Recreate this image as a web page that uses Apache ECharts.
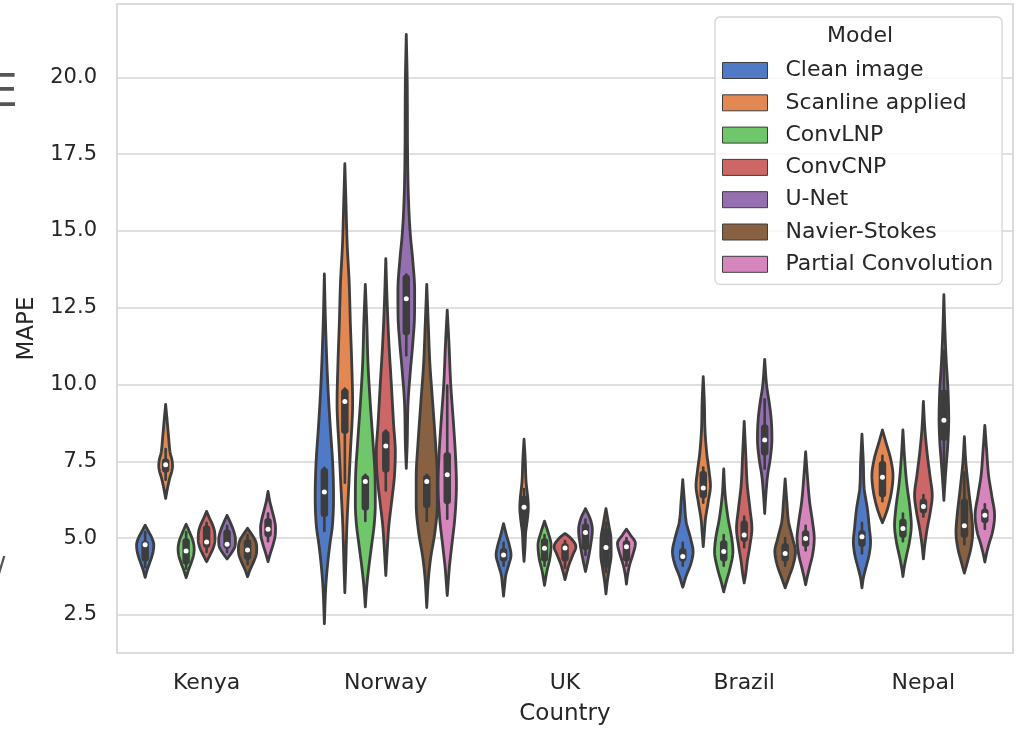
<!DOCTYPE html>
<html>
<head>
<meta charset="utf-8">
<script src="https://cdn.jsdelivr.net/npm/echarts@6/dist/echarts.min.js"></script>
<style>
  html, body { margin: 0; padding: 0; background: #ffffff; }
  #chart { width: 1017px; height: 731px; }
</style>
</head>
<body>
<div id="chart"></div>
<script>
const countries = ['Kenya', 'Norway', 'UK', 'Brazil', 'Nepal'];
const models = ['Clean image', 'Scanline applied', 'ConvLNP', 'ConvCNP', 'U-Net', 'Navier-Stokes', 'Partial Convolution'];
const modelColors = ['#517ac6', '#e38853', '#70c66a', '#cd6666', '#9570b1', '#876142', '#d685bd'];
const yTicks = [2.5, 5, 7.5, 10, 12.5, 15, 17.5, 20];

// Kernel density profiles, one per country (Kenya, Norway, UK, Brazil, Nepal):
// [MAPE, relative density] pairs running from the lower to the upper tail.
const cleanImageDensity = [
  [[3.72,0],[3.93,.15],[4.15,.35],[4.36,.55],[4.57,.7],[4.78,.75],[4.99,.6],[5.21,.3],[5.42,0]],
  [[2.21,0],[3.45,.13],[4.1,.27],[4.77,.47],[5.4,.7],[6.35,.8],[7.4,.73],[8.7,.5],[10.0,.3],[12.0,.1],[13.6,0]],
  [[3.11,0],[3.48,.1],[3.8,.2],[4.13,.45],[4.45,.65],[4.77,.5],[5.1,.25],[5.47,0]],
  [[3.4,0],[3.8,.33],[4.13,.68],[4.56,.9],[4.99,.68],[5.53,.3],[6.17,.15],[6.9,0]],
  [[3.38,0],[3.7,.12],[4.02,.33],[4.45,.62],[4.88,.75],[5.31,.65],[5.96,.47],[6.6,.2],[7.46,.12],[8.38,0]]
];
const scanlineDensity = [
  [[6.29,0],[6.6,.15],[6.94,.35],[7.2,.55],[7.35,.6],[7.55,.55],[7.77,.4],[8.32,.25],[8.87,.12],[9.35,0]],
  [[3.22,0],[4.13,.08],[5.42,.18],[6.74,.35],[8.06,.52],[8.7,.62],[9.37,.68],[10.7,.6],[12.0,.48],[13.3,.38],[14.6,.2],[15.9,.1],[17.19,0]],
  [[4.24,0],[4.67,.08],[5.2,.15],[5.64,.3],[6.0,.37],[6.29,.33],[6.82,.18],[7.58,.1],[8.22,0]],
  [[4.72,0],[5.1,.08],[5.64,.2],[6.17,.43],[6.71,.63],[7.14,.52],[7.78,.3],[8.54,.15],[9.4,.1],[10.26,0]],
  [[5.5,0],[5.64,.15],[5.96,.45],[6.49,.78],[7.03,.92],[7.57,.72],[8.1,.32],[8.52,0]]
];
const convLNPDensity = [
  [[3.71,0],[3.95,.2],[4.2,.45],[4.45,.65],[4.65,.7],[4.9,.6],[5.15,.35],[5.45,0]],
  [[2.76,0],[3.45,.13],[4.1,.32],[4.77,.55],[5.42,.77],[6.1,.87],[7.0,.85],[8.06,.68],[9.39,.43],[10.7,.23],[12.0,.13],[13.26,0]],
  [[3.46,0],[3.91,.2],[4.35,.47],[4.77,.57],[5.2,.3],[5.55,0]],
  [[3.25,0],[3.59,.23],[4.02,.55],[4.56,.8],[4.99,.7],[5.64,.38],[6.39,.13],[7.25,0]],
  [[3.75,0],[4.02,.1],[4.35,.27],[4.88,.57],[5.42,.73],[5.96,.62],[6.82,.32],[7.68,.13],[8.52,0]]
];
const convCNPDensity = [
  [[4.23,0],[4.45,.3],[4.7,.6],[4.95,.73],[5.2,.7],[5.45,.5],[5.65,.25],[5.87,0]],
  [[3.78,0],[4.77,.15],[5.42,.27],[6.1,.48],[7.0,.75],[7.8,.83],[8.7,.68],[10.03,.48],[11.35,.27],[12.66,.12],[14.1,0]],
  [[3.65,0],[3.87,.15],[4.13,.35],[4.45,.68],[4.72,.95],[4.99,.52],[5.15,0]],
  [[3.54,0],[3.8,.12],[4.24,.27],[4.77,.5],[5.31,.67],[5.96,.5],[6.71,.27],[7.78,.13],[8.8,0]],
  [[4.32,0],[4.77,.12],[5.31,.33],[5.85,.6],[6.39,.77],[7.03,.57],[7.68,.35],[8.54,.13],[9.45,0]]
];
const uNetDensity = [
  [[4.32,0],[4.5,.35],[4.75,.7],[4.95,.73],[5.2,.6],[5.45,.35],[5.74,0]],
  [[7.27,0],[8.06,.08],[9.37,.15],[10.42,.35],[11.35,.57],[12.26,.72],[13.06,.73],[14.1,.55],[14.9,.35],[15.94,.2],[17.26,.12],[19.9,.08],[21.4,0]],
  [[3.91,0],[4.35,.25],[4.77,.45],[5.26,.6],[5.64,.4],[5.96,0]],
  [[5.8,0],[6.39,.1],[7.03,.25],[7.57,.48],[8.22,.63],[8.86,.57],[9.4,.4],[9.94,.18],[10.82,0]],
  [[6.23,0],[6.71,.08],[7.35,.2],[8.1,.35],[8.86,.42],[9.72,.37],[10.8,.2],[11.87,.08],[12.93,0]]
];
const navierStokesDensity = [
  [[3.74,0],[3.95,.2],[4.2,.5],[4.45,.75],[4.65,.8],[4.9,.7],[5.1,.4],[5.32,0]],
  [[2.74,0],[3.7,.15],[4.38,.35],[5.16,.7],[6.1,.92],[7.0,.92],[8.06,.77],[9.39,.52],[10.7,.27],[12.0,.13],[13.26,0]],
  [[3.18,0],[3.59,.12],[4.03,.3],[4.45,.45],[5.0,.43],[5.42,.25],[5.96,0]],
  [[3.38,0],[3.7,.3],[4.13,.7],[4.56,.9],[4.99,.65],[5.53,.3],[6.17,.15],[6.93,0]],
  [[3.86,0],[4.24,.28],[4.67,.57],[5.2,.73],[5.74,.63],[6.49,.4],[7.46,.13],[8.3,0]]
];
const partialConvDensity = [
  [[4.23,0],[4.5,.2],[4.8,.45],[5.1,.63],[5.35,.65],[5.6,.55],[5.9,.35],[6.2,.15],[6.52,0]],
  [[3.13,0],[4.1,.2],[4.77,.4],[5.69,.67],[6.74,.8],[7.67,.72],[8.7,.55],[10.03,.3],[11.35,.15],[12.42,0]],
  [[3.5,0],[3.8,.1],[4.13,.28],[4.45,.55],[4.83,.78],[5.1,.35],[5.29,0]],
  [[3.48,0],[3.7,.12],[4.02,.32],[4.45,.6],[4.99,.75],[5.53,.6],[6.17,.35],[7.03,.15],[7.81,0]],
  [[4.22,0],[4.45,.12],[4.77,.33],[5.2,.67],[5.74,.85],[6.39,.6],[7.03,.33],[7.89,.15],[8.67,0]]
];

// Inner box statistics per country: [lower whisker, Q1, median, Q3, upper whisker]
const cleanImageBox = [[4.05,4.23,4.78,4.92,5.2],[5.23,5.68,6.5,7.29,7.29],[4.1,4.23,4.45,4.68,4.85],[4.1,4.23,4.4,4.68,4.85],[4.5,4.71,5.04,5.26,5.5]];
const scanlineBox = [[6.9,7.13,7.39,7.6,7.9],[6.8,8.39,9.45,9.87,9.87],[5.1,5.32,6.0,6.39,6.6],[6.15,6.29,6.63,7.19,7.3],[6.2,6.32,6.98,7.52,7.68]];
const convLNPBox = [[4.0,4.13,4.58,5.0,5.2],[5.56,5.89,6.84,7.06,7.06],[4.1,4.23,4.67,5.0,5.1],[4.1,4.23,4.56,4.94,5.1],[4.9,5.0,5.31,5.64,5.8]];
const convCNPBox = [[4.55,4.68,4.87,5.42,5.5],[6.55,7.13,8.0,8.5,8.5],[4.03,4.23,4.68,4.84,4.9],[4.7,4.87,5.1,5.58,5.7],[5.7,5.8,6.03,6.29,6.4]];
const uNetBox = [[4.55,4.65,4.8,5.29,5.4],[10.95,11.6,12.79,13.58,13.58],[4.45,4.6,5.18,5.48,5.6],[7.26,7.68,8.19,8.71,9.52],[7.03,8.16,8.84,9.84,11.1]];
const navierStokesBox = [[4.15,4.29,4.61,4.97,5.1],[5.56,5.97,6.84,7.06,7.06],[3.9,4.03,4.69,5.32,5.5],[4.1,4.23,4.5,4.84,5.0],[4.8,5.0,5.4,6.29,7.14]];
const partialConvBox = [[4.9,5.03,5.29,5.65,5.8],[5.63,6.1,7.06,7.8,9.97],[4.1,4.23,4.72,4.94,5.0],[4.6,4.71,4.99,5.26,5.4],[5.3,5.48,5.74,5.96,6.1]];

const densities = [cleanImageDensity, scanlineDensity, convLNPDensity, convCNPDensity, uNetDensity, navierStokesDensity, partialConvDensity];
const boxes = [cleanImageBox, scanlineBox, convLNPBox, convCNPBox, uNetBox, navierStokesBox, partialConvBox];

const EDGE = '#3d3d3d';
const FONT = 'DejaVu Sans';
const TEXT = '#262626';

// Monotone cubic (Fritsch-Carlson) resampling of a density profile so the outline is smooth
function smoothProfile(prof, steps) {
  const xs = prof.map(p => p[0]), ys = prof.map(p => p[1]);
  const m = xs.length, dx = [], sl = [], t = new Array(m);
  for (let i = 0; i < m - 1; i++) { dx[i] = xs[i + 1] - xs[i]; sl[i] = (ys[i + 1] - ys[i]) / dx[i]; }
  t[0] = sl[0]; t[m - 1] = sl[m - 2];
  for (let i = 1; i < m - 1; i++) t[i] = sl[i - 1] * sl[i] <= 0 ? 0 : (sl[i - 1] + sl[i]) / 2;
  for (let i = 0; i < m - 1; i++) {
    if (sl[i] === 0) { t[i] = t[i + 1] = 0; continue; }
    const a = t[i] / sl[i], b = t[i + 1] / sl[i], s = a * a + b * b;
    if (s > 9) { const k = 3 / Math.sqrt(s); t[i] = k * a * sl[i]; t[i + 1] = k * b * sl[i]; }
  }
  const out = [];
  for (let i = 0; i < m - 1; i++) {
    const h = dx[i];
    for (let j = 0; j < steps; j++) {
      const u = j / steps, u2 = u * u, u3 = u2 * u;
      const y = (2 * u3 - 3 * u2 + 1) * ys[i] + (u3 - 2 * u2 + u) * h * t[i] +
                (-2 * u3 + 3 * u2) * ys[i + 1] + (u3 - u2) * h * t[i + 1];
      out.push([xs[i] + u * h, Math.max(0, y)]);
    }
  }
  out.push([xs[m - 1], ys[m - 1]]);
  return out;
}

function violinRenderer(mi) {
  return function (params, api) {
    const ci = api.value(0);
    const prof = densities[mi][ci];
    const box = boxes[mi][ci];
    const band = api.size([1, 0])[0];
    const slot = band * 0.8 / models.length;
    const half = slot / 2 * 1.12;
    const cx = api.coord([ci, 0])[0] + (-0.4 + (mi + 0.5) * 0.8 / models.length) * band;
    const yOf = v => api.coord([ci, v])[1];

    const pts = smoothProfile(prof, 10);
    const right = pts.map(p => [cx + p[1] * half, yOf(p[0])]);
    const left = pts.slice().reverse().map(p => [cx - p[1] * half, yOf(p[0])]);

    const boxW = 7.5;
    let bTop = yOf(box[3]) + boxW / 2, bBot = yOf(box[1]) - boxW / 2;
    if (bTop > bBot) { const mid = (bTop + bBot) / 2; bTop = bBot = mid; }

    return {
      type: 'group',
      children: [
        {
          type: 'polygon',
          shape: { points: right.concat(left) },
          style: { fill: modelColors[mi], stroke: EDGE, lineWidth: 2.8, lineJoin: 'round' }
        },
        {
          type: 'line',
          shape: { x1: cx, y1: yOf(box[0]), x2: cx, y2: yOf(box[4]) },
          style: { stroke: EDGE, lineWidth: 2.6, lineCap: 'round' }
        },
        {
          type: 'line',
          shape: { x1: cx, y1: bBot, x2: cx, y2: bTop },
          style: { stroke: EDGE, lineWidth: boxW, lineCap: 'round' }
        },
        {
          type: 'circle',
          shape: { cx: cx, cy: yOf(box[2]), r: 2.5 },
          style: { fill: '#ffffff' }
        }
      ]
    };
  };
}

const chart = echarts.init(document.getElementById('chart'), null, { renderer: 'canvas' });

const series = models.map((name, mi) => ({
  name: name,
  type: 'custom',
  renderItem: violinRenderer(mi),
  itemStyle: { color: modelColors[mi] },
  encode: { x: 0, y: 1 },
  data: countries.map((c, ci) => [ci, boxes[mi][ci][2]]),
  z: 3
}));

chart.setOption({
  animation: false,
  backgroundColor: '#ffffff',
  textStyle: { fontFamily: FONT },
  grid: {
    left: 117, right: 4, top: 4, bottom: 72,
    show: true, borderColor: '#d2d2d2', borderWidth: 1.6, backgroundColor: '#ffffff'
  },
  xAxis: {
    type: 'category',
    data: countries,
    boundaryGap: true,
    axisLine: { show: false },
    axisTick: { show: false },
    splitLine: { show: false },
    axisLabel: { fontSize: 22, color: TEXT, margin: 19, fontFamily: FONT },
    name: 'Country',
    nameLocation: 'middle',
    nameGap: 50,
    nameTextStyle: { fontSize: 23, color: TEXT, fontFamily: FONT }
  },
  yAxis: {
    type: 'value',
    min: 1.258,
    max: 22.39,
    axisLine: { show: false },
    axisTick: { show: false, customValues: yTicks },
    axisLabel: {
      customValues: yTicks,
      formatter: v => Number(v).toFixed(1),
      fontSize: 21, color: TEXT, margin: 20, fontFamily: FONT
    },
    splitLine: { show: true, lineStyle: { color: '#d6d6d6', width: 1.6 } },
    name: 'MAPE',
    nameLocation: 'middle',
    nameGap: 78,
    nameTextStyle: { fontSize: 23, color: TEXT, fontFamily: FONT }
  },
  legend: {
    orient: 'vertical',
    left: 715,
    top: 17,
    icon: 'rect',
    itemWidth: 45,
    itemHeight: 16,
    itemGap: 10.3,
    padding: [42.5, 9, 9, 7],
    backgroundColor: 'rgba(255,255,255,0.8)',
    borderColor: '#d4d4d4',
    borderWidth: 1.3,
    borderRadius: 5,
    itemStyle: { borderColor: EDGE, borderWidth: 1 },
    textStyle: { fontSize: 22, lineHeight: 22, color: TEXT, fontFamily: FONT, padding: [0, 0, 0, 13] },
    data: models
  },
  graphic: [
    {
      type: 'text', left: 827, top: 25, z: 100,
      style: { text: 'Model', fontSize: 22, fontFamily: FONT, fill: TEXT }
    },
    {
      type: 'text', left: -10, top: 73, z: 100,
      style: { text: 'E', fontSize: 44, fontFamily: FONT, fill: '#555555' }
    },
    {
      type: 'text', left: -4, top: 556, z: 100,
      style: { text: '/', fontSize: 28, fontFamily: FONT, fill: '#555555' }
    }
  ],
  series: series
});
</script>
</body>
</html>
